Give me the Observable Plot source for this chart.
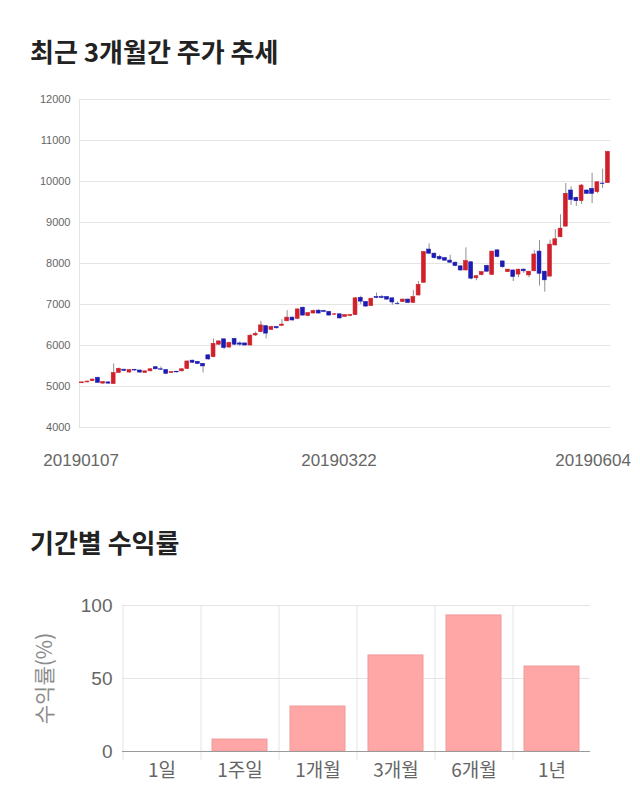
<!DOCTYPE html>
<html>
<head>
<meta charset="utf-8">
<script src="https://cdn.jsdelivr.net/npm/d3@7"></script>
<script src="https://cdn.jsdelivr.net/npm/@observablehq/plot@0.6"></script>
<style>
  html, body { margin: 0; padding: 0; background: #fff; }
  #page { position: relative; width: 640px; height: 810px; overflow: hidden; }
  .title { position: absolute; left: 30px; font-family: "Noto Sans CJK KR", sans-serif; font-weight: 700; font-size: 26px; line-height: 1; color: #222; }
  #chart1 { position: absolute; left: 0; top: 80px; }
  #chart2 { position: absolute; left: 0; top: 590px; }
</style>
</head>
<body>
<div id="page">
  <div class="title" style="top:38px">최근 3개월간 주가 추세</div>
  <div id="chart1"></div>
  <div class="title" style="top:529px">기간별 수익률</div>
  <div id="chart2"></div>
</div>
<script>
// ---- Price chart data (trading days) ----
const dates = [
  "20190107","20190108","20190109","20190110","20190111","20190114","20190115","20190116","20190117","20190118",
  "20190121","20190122","20190123","20190124","20190125","20190128","20190129","20190130","20190131","20190201",
  "20190207","20190208","20190211","20190212","20190213","20190214","20190215","20190218","20190219","20190220",
  "20190221","20190222","20190225","20190226","20190227","20190228","20190304","20190305","20190306","20190307",
  "20190308","20190311","20190312","20190313","20190314","20190315","20190318","20190319","20190320","20190321",
  "20190322","20190325","20190326","20190327","20190328","20190329","20190401","20190402","20190403","20190404",
  "20190405","20190408","20190409","20190410","20190411","20190412","20190415","20190416","20190417","20190418",
  "20190419","20190422","20190423","20190424","20190425","20190426","20190429","20190430","20190502","20190503",
  "20190507","20190508","20190509","20190510","20190513","20190514","20190515","20190516","20190517","20190520",
  "20190521","20190522","20190523","20190524","20190527","20190528","20190529","20190530","20190531","20190603",
  "20190604"
];
const open = [
  5080,5100,5130,5210,5070,5100,5060,5330,5410,5340,
  5400,5390,5330,5370,5470,5420,5400,5330,5360,5370,
  5430,5630,5600,5550,5760,5715,6020,6150,5950,6160,
  6050,6050,6000,6245,6325,6470,6380,6450,6480,6590,
  6680,6650,6920,6720,6780,6850,6840,6820,6750,6760,
  6700,6720,6740,7160,7060,6960,7180,7180,7180,7150,
  7020,7060,7120,7040,7220,7530,8340,8240,8160,8130,
  8070,8020,7930,7830,8030,7640,7720,7940,7720,8320,
  8050,7790,7830,7730,7850,7710,7810,8290,7800,7680,
  8440,8640,8900,9780,9600,9520,9780,9820,9740,9950,
  9960
];
const close = [
  5100,5120,5170,5090,5110,5070,5330,5430,5380,5400,
  5390,5340,5370,5420,5420,5410,5310,5350,5345,5420,
  5610,5580,5550,5490,5660,6040,6100,5940,6060,6020,
  6020,6000,6240,6285,6490,6290,6450,6420,6510,6680,
  6610,6880,6730,6790,6840,6780,6820,6730,6760,6660,
  6740,6740,7150,7070,6950,7140,7160,7160,7120,7050,
  7010,7120,7040,7180,7480,8280,8240,8130,8100,8070,
  8020,7940,7830,8060,7630,7690,7790,7800,8290,8160,
  7910,7850,7670,7850,7810,7800,8220,7750,7590,8460,
  8590,8850,9700,9550,9520,9900,9700,9700,9980,9940,
  10720
];
const high = [
  5110,5130,5180,5230,5120,5110,5550,5450,5420,5410,
  5420,5400,5380,5430,5480,5480,5410,5360,5370,5430,
  5620,5640,5610,5560,5770,6160,6110,6160,6080,6170,
  6090,6060,6260,6330,6590,6480,6470,6460,6630,6850,
  6690,6890,6940,6800,6860,6870,6860,6830,6780,6770,
  6750,6760,7170,7200,7070,7150,7280,7220,7190,7160,
  7060,7130,7130,7340,7560,8290,8480,8250,8200,8150,
  8200,8030,7940,8380,8040,7700,7800,7960,8300,8330,
  8060,7860,7840,7860,7870,7810,8320,8560,7810,8570,
  8830,9190,9950,9870,9620,9930,9790,10200,10000,10300,
  10740
];
const low = [
  5070,5090,5120,5080,5060,5060,5050,5320,5360,5330,
  5370,5320,5320,5360,5410,5390,5290,5320,5330,5360,
  5420,5560,5540,5330,5640,5700,6000,5900,5940,6000,
  5980,5990,5990,6220,6310,6160,6370,6400,6470,6580,
  6600,6640,6720,6700,6770,6770,6800,6720,6740,6650,
  6690,6700,6730,7000,6930,6950,7140,7140,7100,6980,
  6990,7050,7020,7030,7210,7520,8220,8110,8080,8050,
  8000,7920,7810,7820,7600,7580,7700,7790,7710,8140,
  7880,7780,7560,7650,7760,7650,7800,7450,7300,7670,
  8430,8630,8890,9420,9390,9440,9690,9460,9700,9830,
  9950
];
const priceTicks = [4000,5000,6000,7000,8000,9000,10000,11000,12000];
const dateLabelIdx = [0, 50, 100];

// ---- Period returns data ----
const periods = ["1일","1주일","1개월","3개월","6개월","1년"];
const returns = [0, 8.2, 30.8, 65.8, 93.2, 58.2];
const returnTicks = [0, 50, 100];
const returnLabel = "수익률(%)";

const UP = "#d0212b", DOWN = "#1c1cb4", WICK = "#8f8f8f", GRID = "#e4e4e4";
const FONT = "'Liberation Sans', Arial, 'Noto Sans CJK KR', sans-serif";

const idx = dates.map((d, i) => i);
const candleColor = i => close[i] >= open[i] ? UP : DOWN;

const chart1 = Plot.plot({
  width: 640, height: 400,
  marginTop: 19, marginBottom: 53, marginLeft: 79, marginRight: 30,
  style: {fontFamily: FONT, background: "transparent"},
  x: {domain: [-0.5, dates.length - 0.5], axis: null},
  y: {domain: [4000, 12000], axis: null},
  marks: [
    Plot.gridY(priceTicks, {stroke: GRID, strokeOpacity: 1}),
    Plot.ruleX([-0.5], {stroke: GRID, strokeOpacity: 1}),
    Plot.axisY(priceTicks, {tickSize: 0, tickPadding: 9, fontSize: 11, fill: "#666", label: null, tickFormat: d => String(d)}),
    Plot.ruleX(idx, {x: i => i, y1: i => low[i], y2: i => high[i], stroke: WICK, strokeWidth: 1}),
    Plot.rect(idx, {x1: i => i - 0.37, x2: i => i + 0.37, y1: i => open[i], y2: i => close[i], fill: candleColor, stroke: candleColor, strokeWidth: 0.6}),
    Plot.text([dateLabelIdx[0]], {x: i => i, y: 4000, text: i => dates[i], dy: 33, dx: -1, fontSize: 17, fill: "#666"}),
    Plot.text([dateLabelIdx[1]], {x: i => i, y: 4000, text: i => dates[i], dy: 33, dx: -6, fontSize: 17, fill: "#666"}),
    Plot.text([dateLabelIdx[2]], {x: i => i, y: 4000, text: i => dates[i], dy: 33, dx: 23, textAnchor: "end", fontSize: 17, fill: "#666"})
  ]
});
document.getElementById("chart1").appendChild(chart1);

const chart2 = Plot.plot({
  width: 640, height: 210,
  marginTop: 15, marginBottom: 49, marginLeft: 122, marginRight: 50,
  style: {fontFamily: FONT, background: "transparent"},
  x: {domain: periods, paddingInner: 0.3, paddingOuter: 0.15, axis: null},
  y: {domain: [0, 100], axis: null},
  marks: [
    Plot.ruleY([50, 100], {stroke: GRID, strokeOpacity: 1}),
    Plot.ruleX(periods, {dx: -39, stroke: GRID, strokeOpacity: 1, insetBottom: -9}),
    Plot.barY(periods, {x: d => d, y: (d, i) => returns[i], fill: "#ffa6a6", stroke: "#f09a9a", strokeWidth: 1}),
    Plot.ruleY([0], {stroke: "#9a9a9a"}),
    Plot.axisY(returnTicks, {tickSize: 0, tickPadding: 10, fontSize: 19, fill: "#666", label: null}),
    Plot.text([returnLabel], {frameAnchor: "left", textAnchor: "middle", rotate: -90, dx: -77, text: d => d, fontSize: 21, fill: "#8c8c8c", fontFamily: "'Noto Sans CJK KR', sans-serif"}),
    Plot.axisX(periods, {tickSize: 0, tickPadding: 12, fontSize: 19, fill: "#666", label: null, fontFamily: "'Noto Sans CJK KR', sans-serif"})
  ]
});
document.getElementById("chart2").appendChild(chart2);
</script>
</body>
</html>
